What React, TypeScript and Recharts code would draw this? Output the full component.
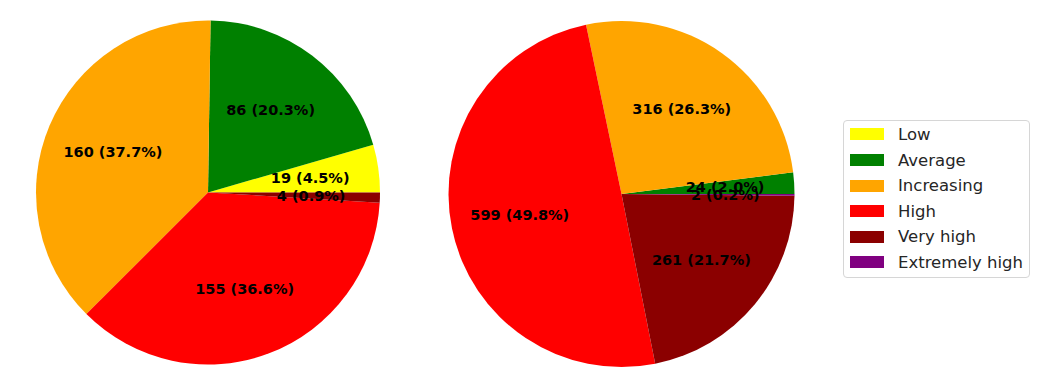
import { Cell, Pie, PieChart } from "recharts";

const CATEGORIES = ["Low", "Average", "Increasing", "High", "Very high", "Extremely high"];
const COLORS = ["#ffff00", "#008000", "#ffa500", "#ff0000", "#8b0000", "#800080"];

// left pie: Low, Average, Increasing, High, Very high
const LEFT_VALUES = [19, 86, 160, 155, 4];
// right pie: Average, Increasing, High, Very high, Extremely high
const RIGHT_CATEGORIES = ["Average", "Increasing", "High", "Very high", "Extremely high"];
const RIGHT_VALUES = [24, 316, 599, 261, 2];

const leftData = LEFT_VALUES.map((value, i) => ({ name: CATEGORIES[i], value }));
const rightData = RIGHT_VALUES.map((value, i) => ({ name: RIGHT_CATEGORIES[i], value }));

const RAD = Math.PI / 180;
const colorOf = (name: string) => COLORS[CATEGORIES.indexOf(name)];

const renderLabel = (props: any) => {
  const { cx, cy, midAngle, outerRadius, value, percent } = props;
  const r = outerRadius * 0.6;
  const x = cx + r * Math.cos(midAngle * RAD);
  const y = cy - r * Math.sin(midAngle * RAD);
  return (
    <text
      x={x}
      y={y}
      textAnchor="middle"
      dominantBaseline="central"
      fill="#000"
      fontFamily="DejaVu Sans"
      fontWeight="bold"
      fontSize={14.5}
    >
      {`${value} (${(percent * 100).toFixed(1)}%)`}
    </text>
  );
};

export default function App() {
  return (
    <div
      style={{
        position: "absolute",
        left: 0,
        top: 0,
        width: 1053,
        height: 389,
        background: "#fff",
      }}
    >
      <PieChart width={1053} height={389} margin={{ top: 0, right: 0, bottom: 0, left: 0 }}>
        <Pie
          data={leftData}
          dataKey="value"
          cx={208}
          cy={192.5}
          outerRadius={172}
          startAngle={0}
          endAngle={360}
          stroke="none"
          label={renderLabel}
          labelLine={false}
          isAnimationActive={false}
        >
          {leftData.map((d) => (
            <Cell key={d.name} fill={colorOf(d.name)} />
          ))}
        </Pie>
        <Pie
          data={rightData}
          dataKey="value"
          cx={621.5}
          cy={194}
          outerRadius={173}
          startAngle={0}
          endAngle={360}
          stroke="none"
          label={renderLabel}
          labelLine={false}
          isAnimationActive={false}
        >
          {rightData.map((d) => (
            <Cell key={d.name} fill={colorOf(d.name)} />
          ))}
        </Pie>
      </PieChart>

      <div
        style={{
          position: "absolute",
          left: 843,
          top: 120,
          width: 187,
          height: 158,
          border: "1px solid #d6d6d6",
          borderRadius: 4,
          background: "#fff",
          boxSizing: "border-box",
          fontFamily: "DejaVu Sans",
          fontSize: 16.5,
          color: "#262626",
        }}
      >
        {CATEGORIES.map((name, i) => (
          <div
            key={name}
            style={{
              position: "absolute",
              left: 0,
              top: 14 - 12.8 + i * 25.6 - 0.5,
              height: 25.6,
              display: "flex",
              alignItems: "center",
              whiteSpace: "nowrap",
            }}
          >
            <span
              style={{
                display: "inline-block",
                marginLeft: 6,
                width: 34,
                height: 12,
                background: COLORS[i],
              }}
            />
            <span style={{ marginLeft: 14 }}>{name}</span>
          </div>
        ))}
      </div>
    </div>
  );
}
